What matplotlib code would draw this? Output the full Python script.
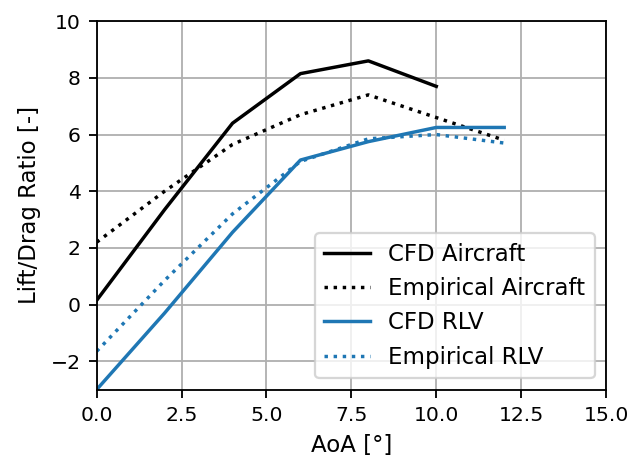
import matplotlib
matplotlib.use('Agg')
import matplotlib.pyplot as plt

# angle of attack [deg]
aoa_cfd_ac = [0, 2, 4, 6, 8, 10]
aoa = [0, 2, 4, 6, 8, 10, 12]

# lift/drag ratios
cfd_aircraft = [0.15, 3.35, 6.4, 8.15, 8.6, 7.7]
emp_aircraft = [2.2, 4.0, 5.65, 6.7, 7.4, 6.6, 5.8]
cfd_rlv = [-3.0, -0.3, 2.55, 5.1, 5.75, 6.25, 6.25]
emp_rlv = [-1.65, 0.85, 3.2, 5.05, 5.85, 6.0, 5.7]

labels = ['CFD Aircraft', 'Empirical Aircraft', 'CFD RLV', 'Empirical RLV']

fig = plt.figure(figsize=(632/165, 461/165), dpi=165)
ax = fig.add_axes([0.153, 0.155, 0.806, 0.799])

ax.plot(aoa_cfd_ac, cfd_aircraft, color='k', ls='-', label=labels[0])
ax.plot(aoa, emp_aircraft, color='k', ls=':', label=labels[1])
ax.plot(aoa, cfd_rlv, color='#1f77b4', ls='-', label=labels[2])
ax.plot(aoa, emp_rlv, color='#1f77b4', ls=':', label=labels[3])

ax.set_xlim(0, 15)
ax.set_ylim(-3, 10)
ax.set_xticks([0, 2.5, 5, 7.5, 10, 12.5, 15])
ax.set_yticks([-2, 0, 2, 4, 6, 8, 10])
ax.tick_params(labelsize=8.9)
ax.grid(True)
ax.set_xlabel('AoA [°]', fontsize=10)
ax.set_ylabel('Lift/Drag Ratio [-]', fontsize=10)
ax.legend(loc='lower right', fontsize=10)

fig.savefig('out.png', dpi=165)
